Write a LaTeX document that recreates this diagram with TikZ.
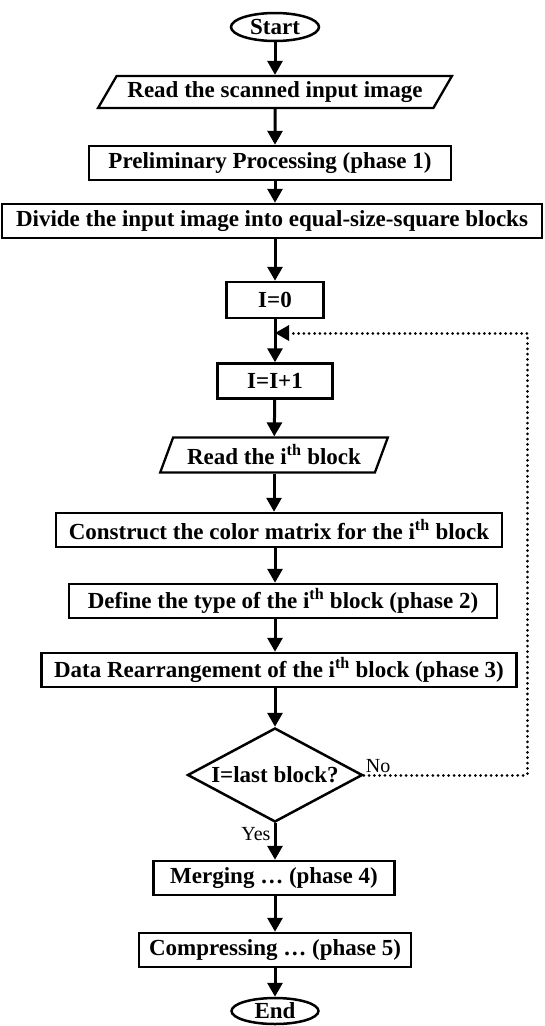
\documentclass[tikz,border=0pt]{standalone}
\usepackage{fontspec}
\setmainfont{Liberation Serif}
\usetikzlibrary{shapes.geometric}
\usetikzlibrary{arrows.meta}
\tikzset{>={Triangle[length=14pt,width=15pt]}}
\tikzset{
  every node/.style={font=\bfseries\fontsize{23}{27}\selectfont},
  proc/.style={draw,rectangle,line width=2.5pt,minimum height=34pt,inner sep=2pt},
  io/.style={draw,trapezium,trapezium stretches=true,line width=2.3pt,inner sep=2pt},
  term/.style={draw,ellipse,line width=2.5pt,inner sep=0pt},
  decision/.style={draw,diamond,aspect=1.86,line width=2.5pt,inner sep=0pt},
  flow/.style={->,line width=3pt},
  loop line/.style={->,line width=3pt,line cap=round,dash pattern=on 0.01pt off 5.3pt},
  note/.style={font=\fontsize{20}{24}\selectfont}
}

\begin{document}
\begin{tikzpicture}[x=1pt,y=-1pt]
  \useasboundingbox (0,0) rectangle (544,1026);

  % MAIN COLUMN
  \node[term,minimum width=88pt,minimum height=28pt] (start) at (275,27) {Start};
  \node[io,trapezium left angle=55,trapezium right angle=125,
        minimum width=354pt,minimum height=32pt] (readimg) at (275,92) {Read the scanned input image};
  \node[proc,minimum width=362pt] (prelim) at (270,163) {Preliminary Processing (phase 1)};
  \node[proc,minimum width=540pt] (divide) at (272,221) {Divide the input image into equal-size-square blocks};
  \node[proc,minimum width=97pt,minimum height=36pt] (izero) at (275,300) {I=0};
  \node[proc,minimum width=115pt,minimum height=35pt] (iinc) at (275,381) {I=I+1};
  \node[io,trapezium left angle=65,trapezium right angle=115,
        minimum width=228pt,minimum height=35pt] (readblk) at (274,455) {Read the i\textsuperscript{th} block};
  \node[proc,minimum width=446pt] (colmat) at (279,530) {Construct the color matrix for the i\textsuperscript{th} block};
  \node[proc,minimum width=428pt] (btype) at (283,601) {Define the type of the i\textsuperscript{th} block (phase 2)};
  \node[proc,minimum width=475pt] (rearr) at (279,670) {Data Rearrangement of the i\textsuperscript{th} block (phase 3)};
  \node[decision,minimum width=175pt,minimum height=94pt] (test) at (275,775) {I=last block?};
  \node[proc,minimum width=241pt] (merge) at (274,878) {Merging \dots\ (phase 4)};
  \node[proc,minimum width=272pt] (compress) at (275,950) {Compressing \dots\ (phase 5)};
  \node[term,minimum width=87pt,minimum height=26pt] (end) at (275,1011) {End};

  % LOOP CORNERS
  \coordinate (join) at (275,333);
  \coordinate (looptop) at (527,333);

  % ARROWS
  \draw[flow] (start) -- (readimg);
  \draw[flow] (readimg) -- (prelim.north -| readimg);
  \draw[flow] (prelim.south -| readimg) -- (divide.north -| readimg);
  \draw[flow] (divide.south -| izero) -- (izero);
  \draw[flow] (izero) -- (iinc);
  \draw[flow] (iinc) -- (readblk);
  \draw[flow] (readblk.south) -- (colmat.north -| readblk.south);
  \draw[flow] (colmat.south -| test) -- (btype.north -| test);
  \draw[flow] (btype.south -| test) -- (rearr.north -| test);
  \draw[flow] (rearr.south -| test) -- (test);
  \draw[flow] (test) -- (merge.north -| test)
    node[note,at start,anchor=north east,inner sep=3pt] {Yes};
  \draw[flow] (merge.south -| test) -- (compress.north -| test);
  \draw[flow] (compress) -- (end);

  % LOOP BACK
  \draw[loop line] (test.east) -| (looptop) -- (join);
  \node[note,anchor=south west,inner sep=2pt] (no) at (test.east) {No};

\end{tikzpicture}
\end{document}
